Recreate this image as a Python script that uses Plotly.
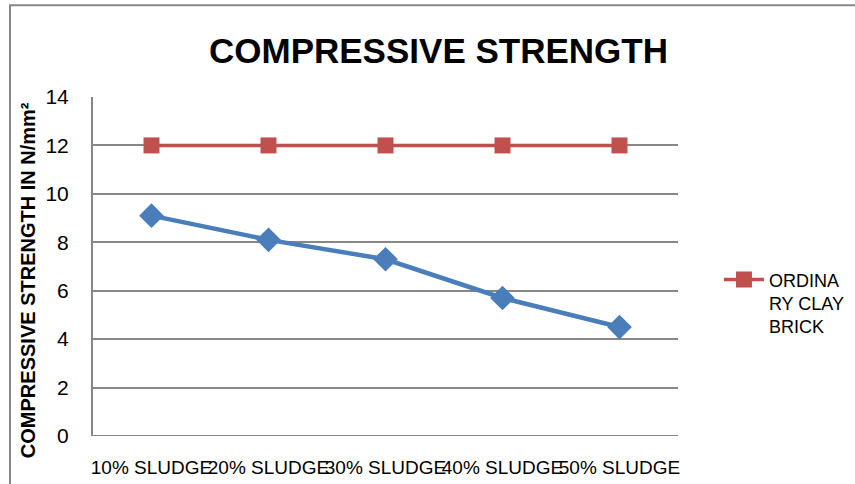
import plotly.graph_objects as go

# Sludge content of each brick mix
categories = ["10% SLUDGE", "20% SLUDGE", "30% SLUDGE", "40% SLUDGE", "50% SLUDGE"]
# Compressive strength (N/mm²)
sludge_brick = [9.1, 8.1, 7.3, 5.7, 4.5]
ordinary_clay_brick = [12, 12, 12, 12, 12]
y_ticks = [0, 2, 4, 6, 8, 10, 12, 14]

FONT = "Liberation Sans, Arial, sans-serif"
GRID = "#878787"

fig = go.Figure()

fig.add_trace(go.Scatter(
    x=categories, y=sludge_brick, name="SLUDGE BRICK", mode="lines+markers",
    line=dict(color="#4a7ebb", width=4.5),
    marker=dict(symbol="diamond", size=19, color="#4a7ebb"),
    showlegend=False,
))
fig.add_trace(go.Scatter(
    x=categories, y=ordinary_clay_brick, name="ORDINA<br>RY CLAY<br>BRICK",
    mode="lines+markers",
    line=dict(color="#c0504d", width=3.5),
    marker=dict(symbol="square", size=16, color="#c0504d"),
))

fig.update_layout(
    width=855, height=484,
    margin=dict(l=93, r=177, t=97, b=48, autoexpand=False),
    paper_bgcolor="white", plot_bgcolor="white",
    font=dict(family=FONT, size=20, color="#000000"),
    showlegend=True,
    legend=dict(
        x=1.07, y=0.515, xanchor="left", yanchor="top", valign="top",
        font=dict(family=FONT, size=18, color="#000000"),
        itemwidth=40, tracegroupgap=0, bgcolor="rgba(0,0,0,0)",
    ),
    xaxis=dict(
        type="category", range=[-0.5, 4.5], automargin=False,
        showgrid=False, showline=False, zeroline=False,
        ticks="", tickangle=0, tickfont=dict(family=FONT, size=19),
        ticklabelstandoff=18,
    ),
    yaxis=dict(
        range=[0, 14], tickvals=y_ticks, ticktext=[str(v) for v in y_ticks],
        automargin=False,
        showgrid=True, gridcolor=GRID, gridwidth=2,
        showline=True, linecolor=GRID, linewidth=2,
        zeroline=False, ticks="", tickfont=dict(family=FONT, size=21),
        ticklabelstandoff=18,
    ),
    annotations=[
        dict(text="<b>COMPRESSIVE STRENGTH</b>", x=0.59, y=1.136,
             xref="paper", yref="paper", xanchor="center", yanchor="middle",
             showarrow=False, font=dict(family=FONT, size=35, color="#000000")),
        dict(text="<b>COMPRESSIVE STRENGTH IN N/mm²</b>", x=-0.111, y=0.46,
             xref="paper", yref="paper", xanchor="center", yanchor="middle",
             textangle=-90, showarrow=False,
             font=dict(family=FONT, size=20, color="#000000")),
    ],
    shapes=[
        # outer chart frame
        dict(type="rect", xref="paper", yref="paper",
             x0=-0.1419, x1=1.33, y0=-0.2, y1=1.271,
             line=dict(color=GRID, width=2), fillcolor="rgba(0,0,0,0)", layer="below"),
        # bottom axis line
        dict(type="line", xref="paper", yref="y", x0=0, x1=1, y0=0, y1=0,
             line=dict(color=GRID, width=2)),
    ],
)

fig.write_html("out.html")
